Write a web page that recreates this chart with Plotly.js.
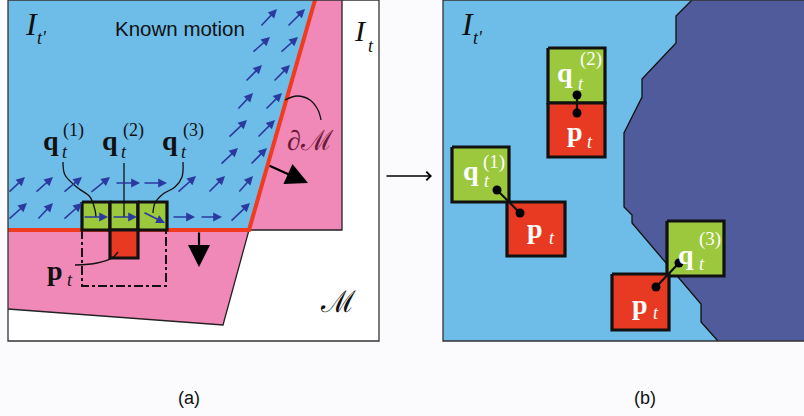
<!DOCTYPE html>
<html>
<head>
<meta charset="utf-8">
<script src="https://cdn.plot.ly/plotly-3.0.1.min.js"></script>
<style>html,body{margin:0;padding:0;background:#fbfbfd;}#plot{width:804px;height:416px;}</style>
</head>
<body>
<div id="plot"></div>
<script>
// ---------- Panel (a) geometry (pixel-space data) ----------
const frameAX = [8, 379, 379, 8, 8];
const frameAY = [0, 0, 341, 341, 0];
const pinkUpperX = [313, 342, 342, 249];
const pinkUpperY = [0, 0, 230, 230];
const pinkLowerX = [8, 249, 223, 8];
const pinkLowerY = [230, 230, 325, 309];
const blueAX = [8, 315, 249, 8];
const blueAY = [0, 0, 230, 230];
const outlineAX = [342, 342, 249, 223, 8];
const outlineAY = [0, 230, 230, 325, 309];
const redLineX = [8, 249, 315];
const redLineY = [230, 230, 0];
const dashRectX = [82, 82, 166, 166];
const dashRectY = [230, 286, 286, 230];

// boxes: x0, x1, y0, y1, kind
const boxX0 = [82, 110, 138, 110, 548, 548, 452, 507, 667, 612];
const boxX1 = [110, 138, 167, 138, 605, 605, 509, 565, 724, 669];
const boxY0 = [202, 202, 202, 230, 48, 103, 147, 202, 221, 274];
const boxY1 = [230, 230, 230, 258, 103, 157, 202, 256, 276, 330];
const boxKind = ['q', 'q', 'q', 'p', 'q', 'p', 'q', 'p', 'q', 'p'];

// connector curves in panel (a)
const curveQ1X = [63, 65, 78, 90, 95, 96];
const curveQ1Y = [162, 175, 188, 197, 210, 217];
const curveQ2X = [124, 124];
const curveQ2Y = [163, 217];
const curveQ3X = [183, 182, 175, 163, 155, 153];
const curveQ3Y = [162, 177, 187, 194, 203, 213];
const curvePX = [75, 97, 112, 118];
const curvePY = [265, 263, 258, 252];
const curveDMX = [285, 297, 310, 318, 321];
const curveDMY = [100, 96, 100, 110, 120];

// blue motion arrows: tail -> head
const arrTailX = [260, 287, 252, 280, 245, 273, 237, 265, 228, 257, 220, 250,
                  8, 35, 63, 90, 115, 143, 177, 208, 238,
                  8, 37, 63, 83, 112, 143, 172, 200, 230];
const arrTailY = [27, 27, 53, 53, 82, 82, 110, 110, 138, 138, 165, 165,
                  193, 193, 193, 193, 183, 183, 193, 193, 193,
                  220, 220, 220, 217, 217, 212, 217, 217, 222];
const arrHeadX = [277, 305, 270, 298, 262, 290, 253, 282, 247, 275, 238, 267,
                  25, 53, 82, 110, 140, 167, 196, 225, 253,
                  27, 53, 82, 108, 137, 165, 195, 222, 250];
const arrHeadY = [9, 9, 37, 37, 65, 65, 93, 93, 120, 120, 148, 148,
                  177, 177, 177, 177, 183, 183, 176, 176, 176,
                  203, 203, 203, 217, 217, 223, 217, 217, 203];

// black arrows: tail -> head
const bArrTailX = [268, 199, 385];
const bArrTailY = [165, 231, 176];
const bArrHeadX = [308, 199, 432];
const bArrHeadY = [183, 267, 176];

// ---------- Panel (b) geometry ----------
const frameBX = [443, 810, 810, 443, 443];
const frameBY = [0, 0, 341, 341, 0];
const darkX = [692, 676, 676, 642, 642, 624, 624, 632, 632, 701, 701, 718, 810, 810];
const darkY = [0, 16, 43, 79, 97, 133, 207, 215, 223, 304, 322, 341, 341, 0];
const qDotX = [577, 497, 679];
const qDotY = [95, 190, 263];
const pDotX = [577, 520, 656];
const pDotY = [113, 213, 287];

// ---------- Text ----------
const serifText = ['<i>I</i>', "<i>t'</i>", '<i>I</i>', '<i>t</i>', '<i>I</i>', "<i>t'</i>",
  '<b>q</b>', '<i>t</i>', '(1)', '<b>q</b>', '<i>t</i>', '(2)', '<b>q</b>', '<i>t</i>', '(3)',
  '<b>p</b>', '<i>t</i>', '∂ℳ', 'ℳ',
  '<b>q</b>', '<i>t</i>', '(2)', '<b>p</b>', '<i>t</i>',
  '<b>q</b>', '<i>t</i>', '(1)', '<b>p</b>', '<i>t</i>',
  '<b>q</b>', '<i>t</i>', '(3)', '<b>p</b>', '<i>t</i>'];
const serifX = [31, 42, 360, 371, 467, 478,
  51, 65, 73, 110, 124, 133, 170, 184, 193,
  55, 70, 310, 338,
  565, 581, 591, 575, 590,
  471, 487, 494, 535, 552,
  686, 702, 710, 640, 656];
const serifY = [24, 38, 30, 46, 24, 38,
  140, 152, 130, 140, 152, 130, 140, 152, 130,
  270, 280, 140, 301,
  72, 84, 59, 131, 142,
  170, 181, 162, 228, 238,
  254, 264, 239, 304, 313];
const serifSize = [32, 18, 30, 18, 32, 18,
  28, 18, 18, 28, 18, 18, 28, 18, 18,
  28, 18, 28, 30,
  28, 18, 19, 28, 18,
  28, 18, 19, 28, 18,
  28, 18, 19, 28, 18];
const serifColor = ['#111', '#111', '#111', '#111', '#111', '#111',
  '#111', '#111', '#111', '#111', '#111', '#111', '#111', '#111', '#111',
  '#111', '#111', '#6a1a35', '#111',
  '#fff', '#fff', '#fff', '#fff', '#fff',
  '#fff', '#fff', '#fff', '#fff', '#fff',
  '#fff', '#fff', '#fff', '#fff', '#fff'];
const sansText = ['Known motion', '(a)', '(b)'];
const sansX = [180, 189, 645];
const sansY = [28, 398, 398];
const sansSize = [20.5, 18, 18];

// ---------- Colours ----------
const C = {blue: '#6ebde8', pink: '#f088b8', green: '#9bc83c', red: '#e83a23',
  dark: '#4f5b9a', redLine: '#f23a1e', arrow: '#2b3a9e', line: '#222'};

// ---------- Build ----------
const traces = [];
function poly(x, y, fill, lw, lc) {
  traces.push({x: x.concat([x[0]]), y: y.concat([y[0]]), mode: 'lines', fill: 'toself',
    fillcolor: fill, line: {width: lw || 0, color: lc || fill}, hoverinfo: 'skip'});
}
function line(x, y, w, c, extra) {
  traces.push(Object.assign({x: x, y: y, mode: 'lines', line: Object.assign({width: w, color: c}, extra || {}), hoverinfo: 'skip'}));
}
// panel a
poly(frameAX.slice(0, 4), frameAY.slice(0, 4), '#ffffff');
poly(pinkUpperX, pinkUpperY, C.pink);
poly(pinkLowerX, pinkLowerY, C.pink);
poly(blueAX, blueAY, C.blue);
line(outlineAX, outlineAY, 1.3, C.line);
line(redLineX, redLineY, 4, C.redLine);
line(frameAX, frameAY, 1.3, '#333');
line(dashRectX, dashRectY, 2, '#111', {dash: 'dashdot'});
// panel b
poly(frameBX.slice(0, 4), frameBY.slice(0, 4), C.blue);
poly(darkX, darkY, C.dark);
line(darkX.slice(0, 12), darkY.slice(0, 12), 1.3, '#111');
line(frameBX, frameBY, 1.3, '#333');
// boxes
for (let i = 0; i < boxX0.length; i++) {
  poly([boxX0[i], boxX1[i], boxX1[i], boxX0[i]], [boxY0[i], boxY0[i], boxY1[i], boxY1[i]],
    boxKind[i] === 'q' ? C.green : C.red, 3.2, '#111');
}
// curves
[[curveQ1X, curveQ1Y], [curveQ2X, curveQ2Y], [curveQ3X, curveQ3Y], [curvePX, curvePY], [curveDMX, curveDMY]]
  .forEach(function (c) { line(c[0], c[1], 1.3, '#111', {shape: 'spline'}); });
// dot connectors
for (let i = 0; i < qDotX.length; i++) {
  line([qDotX[i], pDotX[i]], [qDotY[i], pDotY[i]], 2.2, '#111');
}
traces.push({x: qDotX.concat(pDotX), y: qDotY.concat(pDotY), mode: 'markers',
  marker: {size: 9, color: '#000'}, hoverinfo: 'skip'});

const ann = [];
for (let i = 0; i < arrTailX.length; i++) {
  ann.push({x: arrHeadX[i], y: arrHeadY[i], ax: arrTailX[i], ay: arrTailY[i], axref: 'x', ayref: 'y',
    xref: 'x', yref: 'y', text: '', showarrow: true, arrowhead: 2, arrowsize: 1.1, arrowwidth: 1.6, arrowcolor: C.arrow});
}
for (let i = 0; i < bArrTailX.length; i++) {
  const last = i === bArrTailX.length - 1;
  ann.push({x: bArrHeadX[i], y: bArrHeadY[i], ax: bArrTailX[i], ay: bArrTailY[i], axref: 'x', ayref: 'y',
    xref: 'x', yref: 'y', text: '', showarrow: true, arrowhead: last ? 4 : 2,
    arrowsize: last ? 1.2 : 2, arrowwidth: last ? 1.4 : 2.2, arrowcolor: '#000'});
}
for (let i = 0; i < serifText.length; i++) {
  ann.push({x: serifX[i], y: serifY[i], xref: 'x', yref: 'y', text: serifText[i], showarrow: false,
    xanchor: 'center', yanchor: 'middle',
    font: {family: '"Liberation Serif", "DejaVu Serif", serif', size: serifSize[i], color: serifColor[i]}});
}
for (let i = 0; i < sansText.length; i++) {
  ann.push({x: sansX[i], y: sansY[i], xref: 'x', yref: 'y', text: sansText[i], showarrow: false,
    xanchor: 'center', yanchor: 'middle',
    font: {family: '"Liberation Sans", Arial, sans-serif', size: sansSize[i], color: '#111'}});
}

const layout = {
  width: 804, height: 416, margin: {l: 0, r: 0, t: 0, b: 0},
  paper_bgcolor: '#fbfbfd', plot_bgcolor: '#fbfbfd', showlegend: false, hovermode: false,
  xaxis: {range: [0, 804], visible: false, fixedrange: true},
  yaxis: {range: [416, 0], visible: false, fixedrange: true},
  annotations: ann
};
Plotly.newPlot('plot', traces, layout, {staticPlot: true, displayModeBar: false});
</script>
</body>
</html>
